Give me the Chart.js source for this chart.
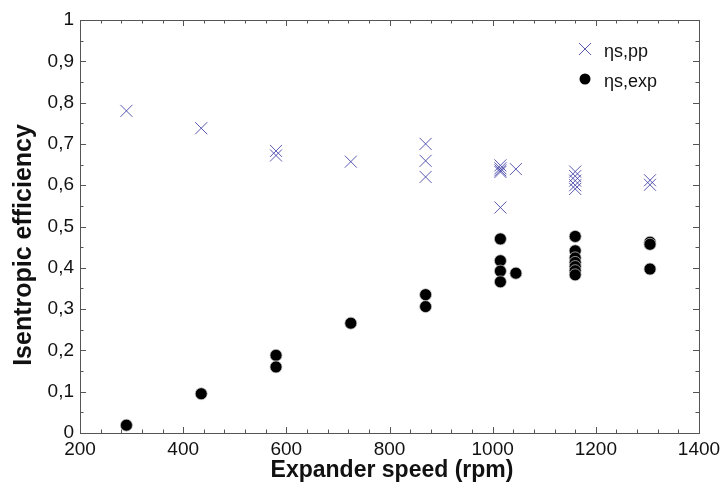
<!DOCTYPE html>
<html>
<head>
<meta charset="utf-8">
<script src="https://cdn.jsdelivr.net/npm/chart.js@4.4.1/dist/chart.umd.min.js"></script>
<style>
html,body{margin:0;padding:0;background:#fff;}
#wrap{width:722px;height:493px;position:relative;}
</style>
</head>
<body>
<div id="wrap"><canvas id="c" width="722" height="493"></canvas></div>
<script>
// ---- data ----
const xTicks = [200, 400, 600, 800, 1000, 1200, 1400];
const yTicks = [0, 0.1, 0.2, 0.3, 0.4, 0.5, 0.6, 0.7, 0.8, 0.9, 1];
const ppSpeed = [290, 435, 580, 580, 725, 870, 870, 870, 1015, 1015, 1015, 1015, 1015, 1045, 1160, 1160, 1160, 1160, 1160, 1305, 1305];
const ppEff   = [0.780, 0.738, 0.683, 0.672, 0.657, 0.700, 0.659, 0.620, 0.648, 0.641, 0.636, 0.632, 0.546, 0.639, 0.633, 0.622, 0.611, 0.600, 0.591, 0.612, 0.601];
const expSpeed = [290, 435, 580, 580, 725, 870, 870, 1015, 1015, 1015, 1015, 1045, 1160, 1160, 1160, 1160, 1160, 1160, 1160, 1305, 1305, 1305];
const expEff   = [0.019, 0.095, 0.188, 0.160, 0.266, 0.335, 0.306, 0.470, 0.417, 0.392, 0.366, 0.387, 0.476, 0.441, 0.424, 0.413, 0.403, 0.393, 0.383, 0.462, 0.457, 0.397];
const legendLabels = ['\u03B7s,pp', '\u03B7s,exp'];
const xTitle = 'Expander speed (rpm)';
const yTitle = 'Isentropic efficiency';

const FONT = "'Liberation Sans', Arial, sans-serif";
const AXIS_COLOR = '#555';
const CROSS_COLOR = 'rgba(60,60,165,0.85)';

function toPts(xs, ys){ return xs.map((x,i)=>({x:x, y:ys[i]})); }

const framePlugin = {
  id: 'frame',
  beforeDatasetsDraw(chart){
    const ctx = chart.ctx, a = chart.chartArea;
    const xs = chart.scales.x, ys = chart.scales.y;
    ctx.save();
    ctx.strokeStyle = AXIS_COLOR;
    ctx.lineWidth = 1;
    ctx.strokeRect(Math.round(a.left)+0.5, Math.round(a.top)+0.5, Math.round(a.right-a.left), Math.round(a.bottom-a.top));
    ctx.beginPath();
    for (let v = xTicks[0]; v <= xTicks[xTicks.length-1] + 0.01; v += 40){
      const px = Math.round(xs.getPixelForValue(v)) + 0.5;
      const major = Math.abs((v - xTicks[0]) % 200) < 0.01;
      const L = major ? 6 : 3.5;
      ctx.moveTo(px, a.bottom); ctx.lineTo(px, a.bottom - L);
      ctx.moveTo(px, a.top); ctx.lineTo(px, a.top + L);
    }
    for (let k = 0; k <= 20; k++){
      const v = k * 0.05;
      const py = Math.round(ys.getPixelForValue(v)) + 0.5;
      const major = k % 2 === 0;
      const L = major ? 6 : 3.5;
      ctx.moveTo(a.left, py); ctx.lineTo(a.left + L, py);
      ctx.moveTo(a.right, py); ctx.lineTo(a.right - L, py);
    }
    ctx.stroke();
    ctx.restore();
  },
  afterDraw(chart){
    const ctx = chart.ctx;
    ctx.save();
    // axis titles
    ctx.fillStyle = '#111';
    ctx.font = 'bold 23px ' + FONT;
    ctx.textAlign = 'center';
    ctx.textBaseline = 'alphabetic';
    ctx.fillText(xTitle, 392, 477);
    ctx.translate(31, 245);
    ctx.rotate(-Math.PI/2);
    ctx.font = 'bold 25px ' + FONT;
    ctx.fillText(yTitle, 0, 0);
    ctx.restore();

    // legend
    ctx.save();
    const lx = 585, ly1 = 49, ly2 = 79;
    ctx.strokeStyle = CROSS_COLOR;
    ctx.lineWidth = 1;
    ctx.beginPath();
    ctx.moveTo(lx-6, ly1-6); ctx.lineTo(lx+6, ly1+6);
    ctx.moveTo(lx+6, ly1-6); ctx.lineTo(lx-6, ly1+6);
    ctx.stroke();
    ctx.fillStyle = '#000';
    ctx.beginPath(); ctx.arc(lx, ly2, 5.5, 0, Math.PI*2); ctx.fill();
    ctx.fillStyle = '#111';
    ctx.font = '18px ' + FONT;
    ctx.textAlign = 'left';
    ctx.textBaseline = 'middle';
    ctx.fillText(legendLabels[0], 604, ly1 + 3);
    ctx.fillText(legendLabels[1], 604, ly2 + 3);
    ctx.restore();
  }
};

new Chart(document.getElementById('c'), {
  type: 'scatter',
  data: {
    datasets: [
      {
        label: legendLabels[1],
        data: toPts(expSpeed, expEff),
        pointStyle: 'circle',
        pointRadius: 6,
        pointBackgroundColor: '#000',
        pointBorderColor: 'rgba(200,200,200,0.9)',
        pointBorderWidth: 0.8
      },
      {
        label: legendLabels[0],
        data: toPts(ppSpeed, ppEff),
        pointStyle: 'crossRot',
        pointRadius: 8.5,
        pointBorderColor: CROSS_COLOR,
        pointBackgroundColor: CROSS_COLOR,
        pointBorderWidth: 1
      }
    ]
  },
  options: {
    responsive: false,
    animation: false,
    devicePixelRatio: 1,
    layout: { padding: { top: 20, right: 23, left: 0, bottom: 0 } },
    plugins: { legend: { display: false }, tooltip: { enabled: false } },
    scales: {
      x: {
        type: 'linear',
        min: xTicks[0], max: xTicks[xTicks.length-1],
        afterFit(s){ s.height = 60; s.paddingRight = 0; s.paddingLeft = 0; },
        afterBuildTicks(s){ s.ticks = xTicks.map(v=>({value:v})); },
        grid: { display: false, drawTicks: false },
        border: { display: false },
        ticks: {
          color: '#111', padding: 5, font: { family: FONT, size: 19 }, maxRotation: 0, autoSkip: false,
          callback: (v) => String(v)
        }
      },
      y: {
        type: 'linear',
        min: yTicks[0], max: yTicks[yTicks.length-1],
        afterFit(s){ s.width = 80; s.paddingTop = 0; s.paddingBottom = 0; },
        afterBuildTicks(s){ s.ticks = yTicks.map(v=>({value:v})); },
        grid: { display: false, drawTicks: false },
        border: { display: false },
        ticks: {
          color: '#111', padding: 6, font: { family: FONT, size: 19 }, autoSkip: false,
          callback: (v) => (Math.round(v*10)/10).toString().replace('.', ',')
        }
      }
    }
  },
  plugins: [framePlugin]
});
</script>
</body>
</html>
